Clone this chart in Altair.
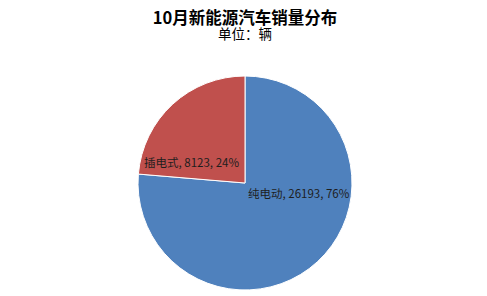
import altair as alt
import pandas as pd

categories = ["纯电动", "插电式"]
sales = [26193, 8123]
percents = ["76%", "24%"]
colors = ["#4F81BD", "#C0504D"]

df = pd.DataFrame({"type": categories, "sales": sales, "pct": percents, "order": [0, 1]})
df["label"] = df["type"] + ", " + df["sales"].astype(str) + ", " + df["pct"]

FONT = "Noto Sans CJK SC"

base = alt.Chart(df).encode(
    theta=alt.Theta("sales:Q", stack=True),
    order=alt.Order("order:Q"),
)

pie = base.mark_arc(outerRadius=107, stroke="white", strokeWidth=1).encode(
    color=alt.Color("type:N", scale=alt.Scale(domain=categories, range=colors), legend=None)
)

lab_red = base.mark_text(
    radius=0, align="right", baseline="middle", dx=-6, dy=-19, fontSize=11.5, font=FONT, color="#1e1e1e"
).encode(text="label:N").transform_filter(alt.datum.type == "插电式")

lab_blue = base.mark_text(
    radius=0, align="left", baseline="middle", dx=3, dy=12, fontSize=11.5, font=FONT, color="#1e1e1e"
).encode(text="label:N").transform_filter(alt.datum.type == "纯电动")

chart = alt.layer(pie, lab_red, lab_blue).properties(
    width=484,
    height=226,
    padding={"left": 3, "right": 0, "top": 70, "bottom": 0},
    autosize=alt.AutoSizeParams(type="none"),
    background="white",
    title=alt.TitleParams(
        text="10月新能源汽车销量分布",
        subtitle="单位：辆",
        anchor="middle",
        font=FONT,
        fontSize=16.5,
        fontWeight="bold",
        color="#000000",
        subtitleFont=FONT,
        subtitleFontSize=13.5,
        subtitleColor="#000000",
        subtitlePadding=0,
        offset=29,
    ),
).configure_view(stroke=None)

chart.save("out.html", embed_options={"renderer": "svg", "actions": False})
